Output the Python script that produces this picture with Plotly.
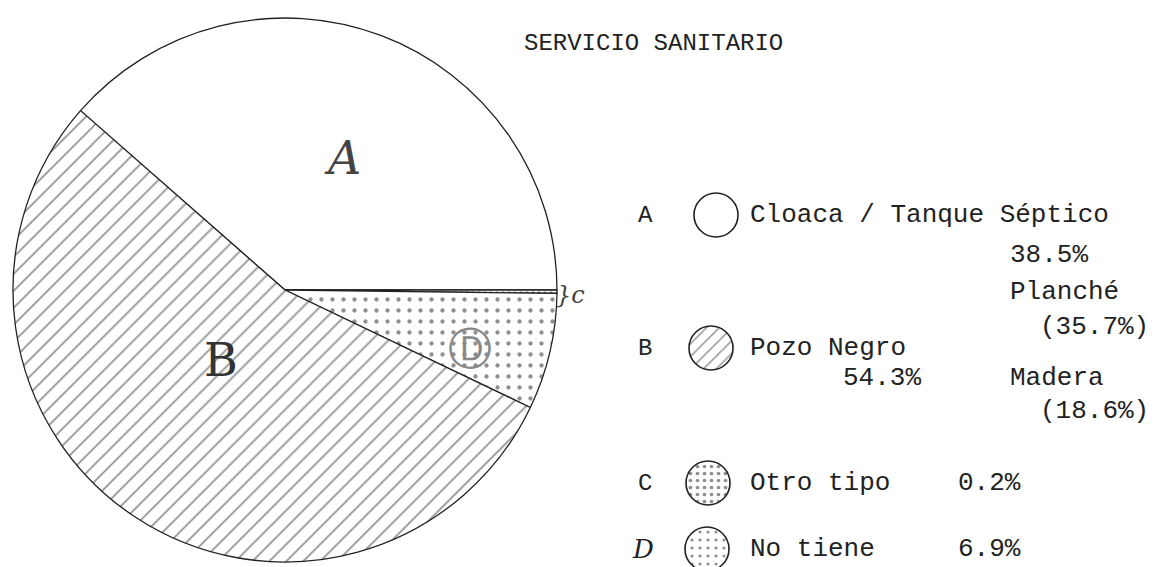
import plotly.graph_objects as go

# datos del cuadro
letras = ["A", "B", "C", "D"]
tipos = ["Cloaca / Tanque Séptico", "Pozo Negro", "Otro tipo", "No tiene"]
porcentajes = [38.5, 54.3, 0.2, 6.9]
textos_pct = ["38.5%", "54.3%", "0.2%", "6.9%"]
sub_tipos = ["Planché", "Madera"]
sub_pct = ["(35.7%)", "(18.6%)"]
titulo = "SERVICIO SANITARIO"

W, H = 1157, 567
MONO = "Liberation Mono"


def px(x):
    return x / W


def py(y):
    return 1 - y / H


# tramas de cada sector
trama = {"A": "", "B": "/", "C": ".", "D": "."}
trama_size = {"A": 8, "B": 12, "C": 6, "D": 11}
trama_sol = {"A": 0.2, "B": 0.14, "C": 0.3, "D": 0.12}

# sentido horario empezando en el borde A/B: A, C, D, B
orden = [0, 2, 3, 1]
lab = [letras[i] for i in orden]
val = [porcentajes[i] for i in orden]

fig = go.Figure()

cx, cy, r = 277, 282, 272
fig.add_trace(go.Pie(
    labels=lab, values=val, sort=False, direction="clockwise",
    rotation=90 - porcentajes[0] * 360 / sum(porcentajes),
    textinfo="none", hoverinfo="label+percent", showlegend=False,
    domain=dict(x=[px(cx - r), px(cx + r)], y=[py(cy + r), py(cy - r)]),
    marker=dict(
        colors=["white"] * 4,
        line=dict(color="#222", width=1.3),
        pattern=dict(
            shape=[trama[l] for l in lab],
            size=[trama_size[l] for l in lab],
            solidity=[trama_sol[l] for l in lab],
            fgcolor="#222", bgcolor="white", fillmode="overlay",
        ),
    ),
))

# circulos de la leyenda
filas_y = [207, 340, 475, 541]
centros_x = [708, 703, 700, 699]
leyenda_size = {"A": 8, "B": 9, "C": 7, "D": 8}
leyenda_sol = {"A": 0.2, "B": 0.16, "C": 0.22, "D": 0.12}
for i, l in enumerate(letras):
    lx, ly, lr = centros_x[i], filas_y[i], 22
    fig.add_trace(go.Pie(
        labels=[l], values=[1], sort=False, textinfo="none",
        hoverinfo="label", showlegend=False,
        domain=dict(x=[px(lx - lr), px(lx + lr)], y=[py(ly + lr), py(ly - lr)]),
        marker=dict(
            colors=["white"],
            line=dict(color="#222", width=1.6),
            pattern=dict(shape=[trama[l]], size=[leyenda_size[l]],
                         solidity=[leyenda_sol[l]], fgcolor="#222",
                         bgcolor="white", fillmode="overlay"),
        ),
    ))

ann = []


def texto(x, y, s, size=26, xanchor="left", font=MONO, style="normal", color="#222"):
    ann.append(dict(x=px(x), y=py(y), xref="paper", yref="paper", text=s,
                    showarrow=False, xanchor=xanchor, yanchor="middle",
                    font=dict(family=font, size=size, color=color, style=style)))


texto(514, 35, titulo, size=24)

# letras y nombres
for i, l in enumerate(letras):
    if l == "D":
        texto(622, filas_y[i], l, size=26, font="DejaVu Serif", style="italic")
    else:
        texto(628, filas_y[i], l, size=24)
    texto(740, filas_y[i], tipos[i])

texto(1000, 247, textos_pct[0])
texto(1000, 284, sub_tipos[0])
texto(1030, 319, sub_pct[0])
texto(915, 370, textos_pct[1], xanchor="right")
texto(1000, 370, sub_tipos[1])
texto(1030, 403, sub_pct[1])
texto(948, filas_y[2], textos_pct[2])
texto(948, filas_y[3], textos_pct[3])

# rotulos dentro del circulo
texto(334, 150, "A", size=46, xanchor="center", font="DejaVu Serif", style="italic", color="#444")
texto(213, 352, "B", size=46, xanchor="center", font="DejaVu Serif", color="#333")
texto(462, 340, "Ⓓ", size=44, xanchor="center", font="DejaVu Sans", color="#888")
texto(562, 287, "}c", size=24, xanchor="center", font="DejaVu Serif", style="italic", color="#444")

fig.update_layout(
    width=W, height=H, margin=dict(l=0, r=0, t=0, b=0),
    paper_bgcolor="white", plot_bgcolor="white",
    annotations=ann,
)

fig.write_html("out.html")
